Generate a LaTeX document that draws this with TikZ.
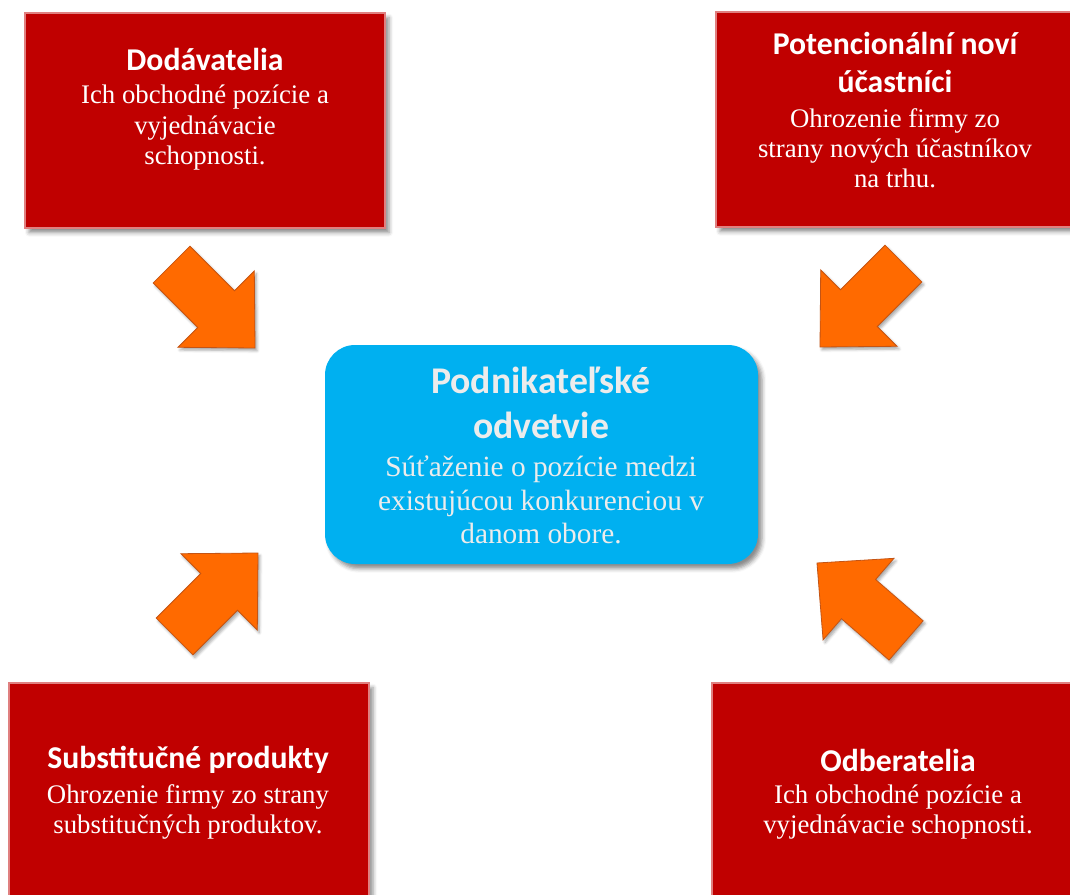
\documentclass[tikz,border=0pt]{standalone}
\usepackage{fontspec}
\setmainfont{Liberation Serif}
\newfontfamily\headfont{Carlito}
\usetikzlibrary{shadows.blur}

\definecolor{boxred}{RGB}{192,0,0}
\definecolor{boxedge}{RGB}{224,128,128}
\definecolor{coreblue}{RGB}{0,176,240}
\definecolor{coretext}{RGB}{236,236,236}
\definecolor{arroworange}{RGB}{255,106,0}
\definecolor{arrowedge}{RGB}{196,84,20}

\tikzset{
  redbox/.style={draw=boxedge, line width=2.2pt, fill=boxred, inner sep=0pt,
    blur shadow={shadow xshift=3pt, shadow yshift=-3.5pt,
                 shadow blur radius=3pt, shadow opacity=45}},
  corebox/.style={fill=coreblue, inner sep=0pt, rounded corners=22.5pt,
    blur shadow={shadow xshift=3pt, shadow yshift=-3.5pt,
                 shadow blur radius=3pt, shadow opacity=45}},
  headtext/.style={text=white, font=\headfont\bfseries\fontsize{23.8}{28.1}\selectfont,
    text width=265pt, align=flush center, anchor=base, inner sep=0pt},
  bodytext/.style={text=white, font=\fontsize{20.1}{22.6}\selectfont,
    text width=265pt, align=flush center, anchor=base, inner sep=0pt},
  corehead/.style={text=coretext, font=\headfont\bfseries\fontsize{28.3}{33.75}\selectfont,
    text width=320pt, align=flush center, anchor=base, inner sep=0pt},
  corebody/.style={text=coretext, font=\fontsize{22}{25}\selectfont,
    text width=320pt, align=flush center, anchor=base, inner sep=0pt},
  arrowbody/.style={fill=arroworange, draw=arrowedge, line width=0.6pt, line join=miter,
    blur shadow={shadow xshift=1.5pt, shadow yshift=-2pt,
                 shadow blur radius=2pt, shadow opacity=35}},
  pics/bigarrow/.style={code={
    \path[arrowbody] (0,0) -- (-55,54) -- (-55,26) -- (-118,26)
      -- (-118,-26) -- (-55,-26) -- (-55,-54) -- cycle;}},
}

\begin{document}
\begin{tikzpicture}[x=0.75pt, y=-0.75pt]
  \useasboundingbox (0,0) rectangle (1070,895);

  % the four forces
  \node[redbox, minimum width=270pt, minimum height=161.25pt] (supp) at (205,120.5) {};
  \node[redbox, minimum width=268.5pt, minimum height=161.25pt] (entr) at (895,119.5) {};
  \node[redbox, minimum width=270pt, minimum height=161.25pt] (subs) at (189,790.5) {};
  \node[redbox, minimum width=277.5pt, minimum height=161.25pt] (cust) at (897,790.5) {};

  % the industry itself
  \node[corebox, minimum width=324.75pt, minimum height=164.25pt] (core) at (541.5,454.5) {};

  % texts
  \node[headtext] (suppT) at (205,70.7) {Dodávatelia};
  \node[bodytext] (suppB) at (205,104) {Ich obchodné pozície a\\vyjednávacie\\schopnosti.};

  \node[headtext] (entrT) at (895,55) {Potencionální noví\\účastníci};
  \node[bodytext] (entrB) at (895,127.3) {Ohrozenie firmy zo\\strany nových účastníkov\\na trhu.};

  \node[headtext] (subsT) at (188,768.3) {Substitučné produkty};
  \node[bodytext] (subsB) at (188,803.3) {Ohrozenie firmy zo strany\\substitučných produktov.};

  \node[headtext] (custT) at (898,771) {Odberatelia};
  \node[bodytext] (custB) at (898,803.3) {Ich obchodné pozície a\\vyjednávacie schopnosti.};

  \node[corehead] (coreT) at (541,393.3) {Podnikateľské\\odvetvie};
  \node[corebody] (coreB) at (541,476.7) {Súťaženie o pozície medzi\\existujúcou konkurenciou v\\danom obore.};

  % block arrows pointing towards the industry
  \pic[rotate=-45] (arSupp) at (255,348) {bigarrow};
  \pic[rotate=-135] (arEntr) at (820,347) {bigarrow};
  \pic[rotate=45] (arSubs) at (258,553) {bigarrow};
  \pic[rotate=139] (arCust) at (817,563) {bigarrow};
\end{tikzpicture}
\end{document}
